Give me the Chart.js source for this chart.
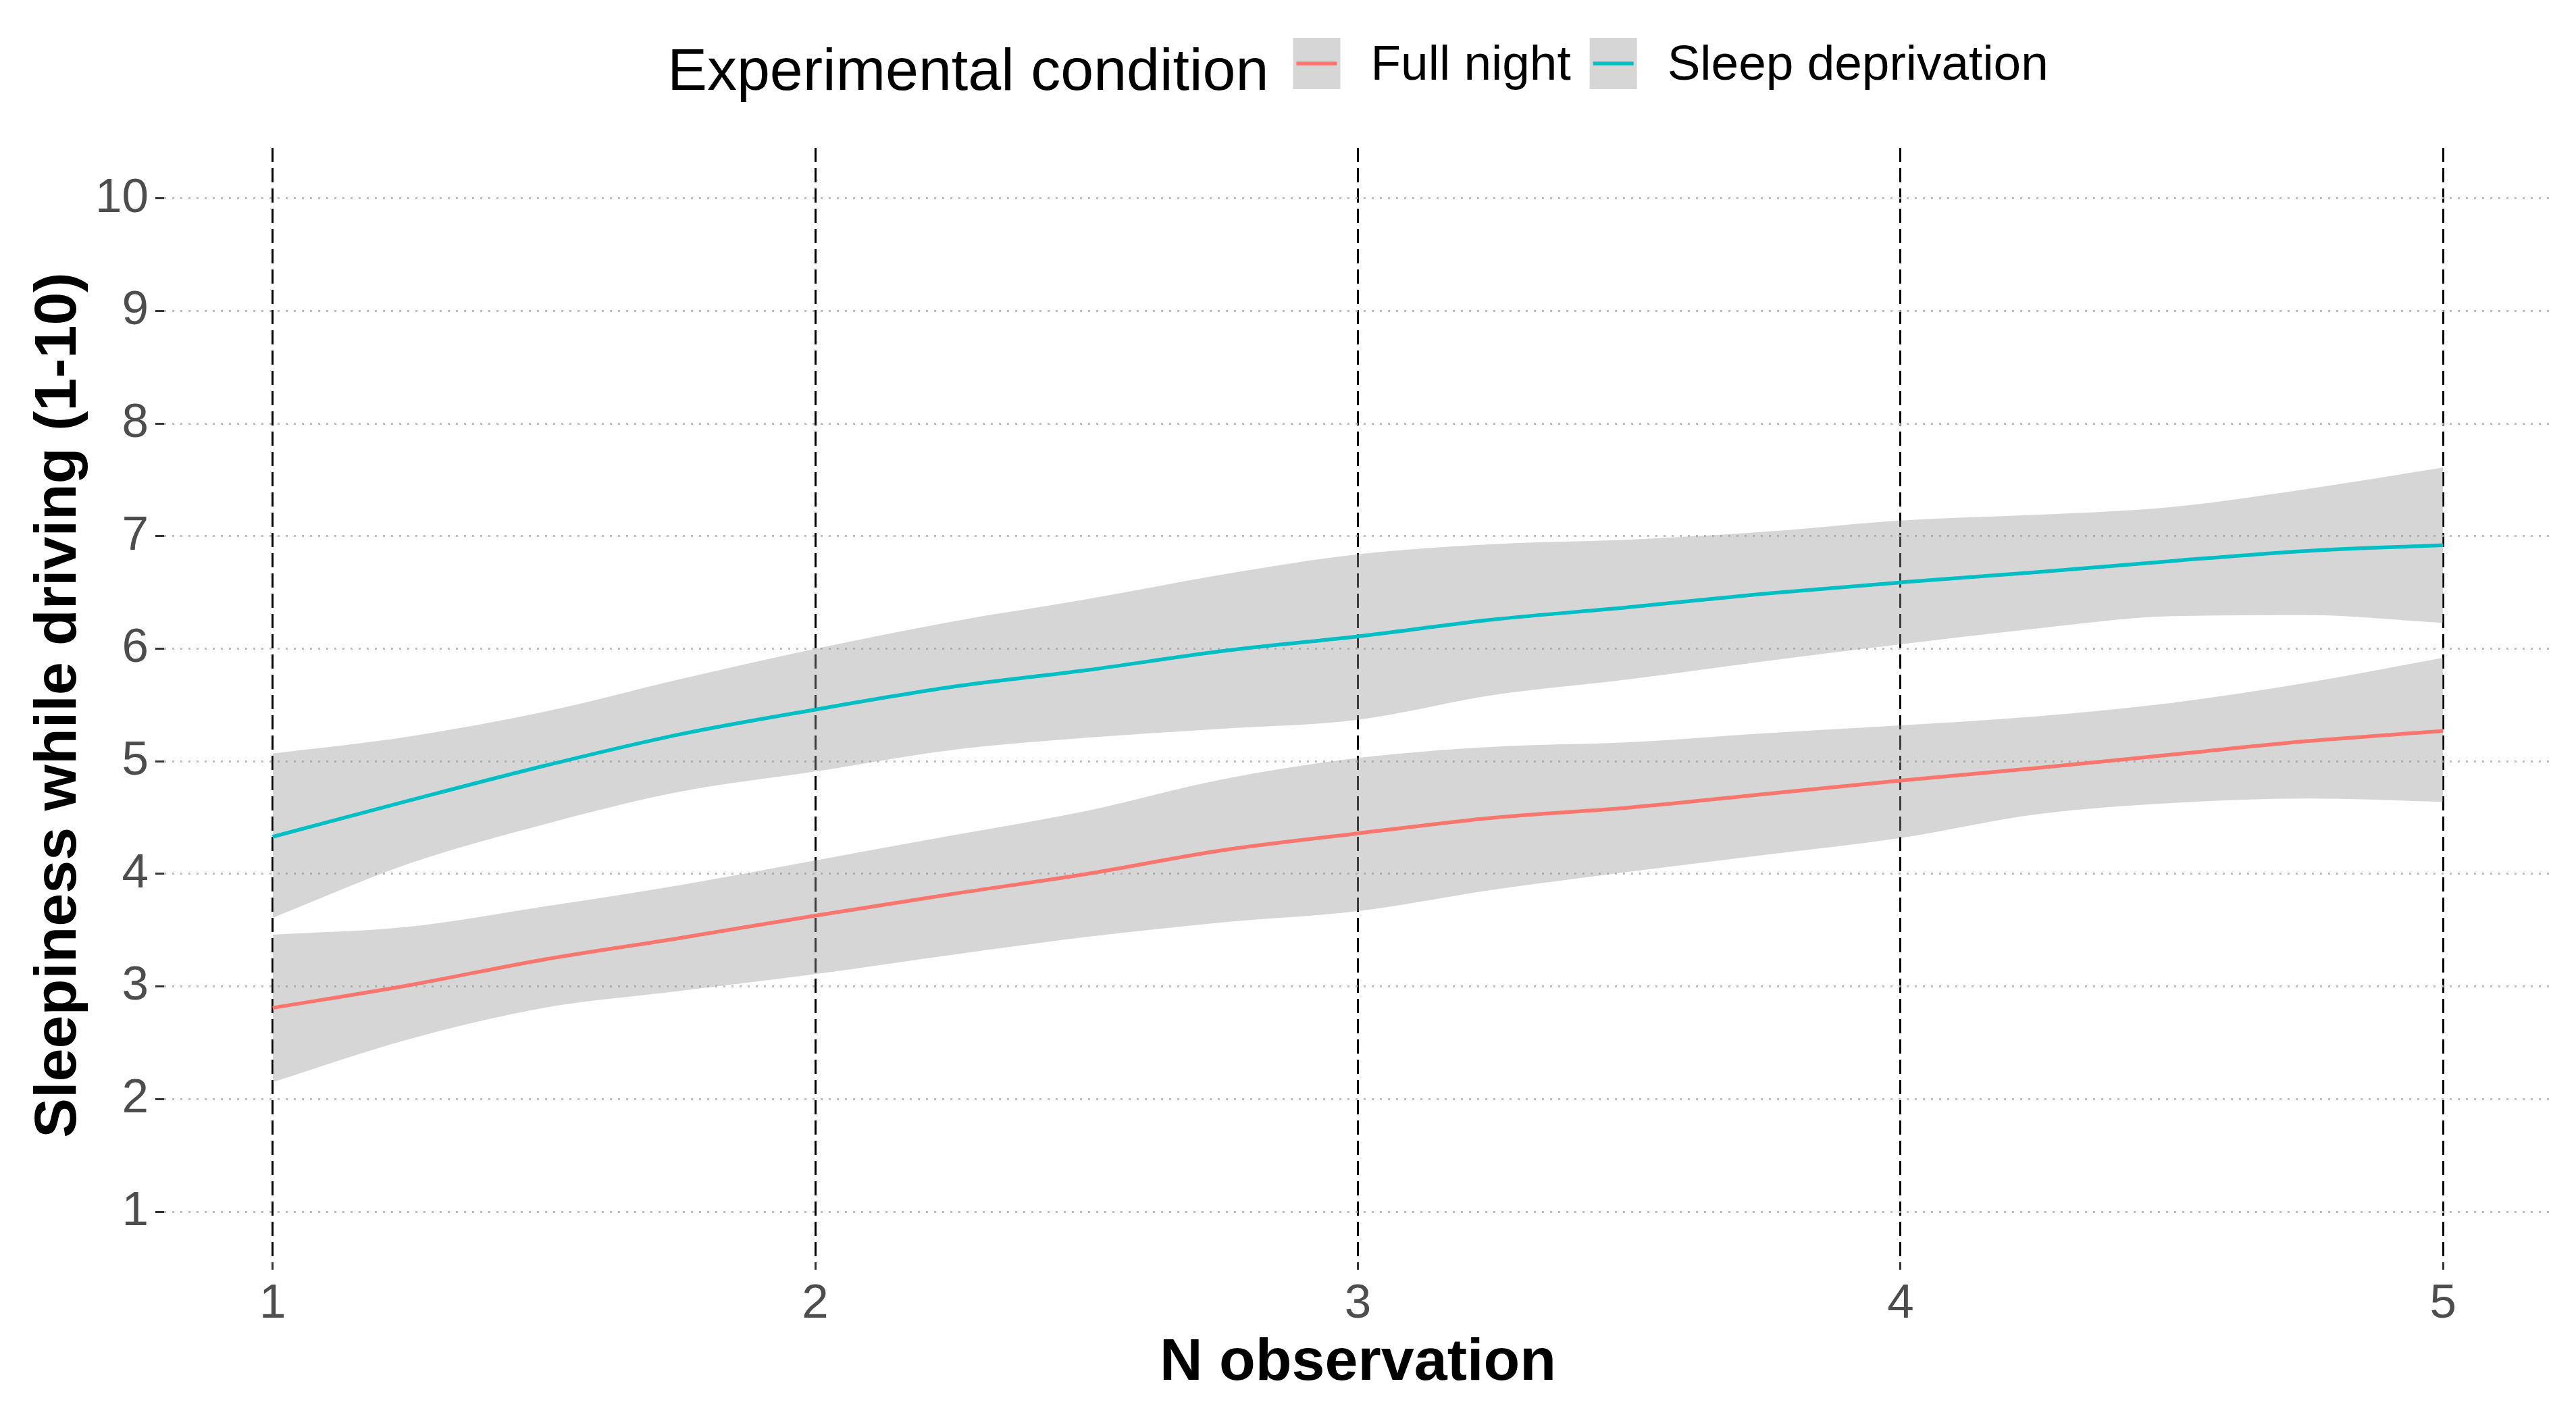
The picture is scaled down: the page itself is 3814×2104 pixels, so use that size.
<!DOCTYPE html>
<html>
<head>
<meta charset="utf-8">
<script src="https://cdn.jsdelivr.net/npm/chart.js@4.4.1/dist/chart.umd.min.js"></script>
<style>
  html, body { margin: 0; padding: 0; background: #ffffff; overflow: hidden; }
  canvas { display: block; }
</style>
</head>
<body>
<canvas id="chart" width="3814" height="2104" style="width:3814px;height:2104px"></canvas>
<script>
// ---------------- data ----------------
const observations = [1, 1.25, 1.5, 1.75, 2, 2.25, 2.5, 2.75, 3, 3.25, 3.5, 3.75, 4, 4.25, 4.5, 4.75, 5];

const fullNightFit   = [2.81, 3.01, 3.24, 3.43, 3.63, 3.82, 4.00, 4.21, 4.36, 4.50, 4.59, 4.71, 4.83, 4.94, 5.06, 5.18, 5.27];
const fullNightUpper = [3.46, 3.53, 3.71, 3.90, 4.12, 4.34, 4.56, 4.84, 5.03, 5.13, 5.17, 5.25, 5.32, 5.40, 5.52, 5.70, 5.92];
const fullNightLower = [2.15, 2.53, 2.81, 2.96, 3.11, 3.28, 3.44, 3.57, 3.67, 3.86, 4.02, 4.17, 4.32, 4.53, 4.63, 4.67, 4.64];

const sleepDepFit    = [4.33, 4.65, 4.96, 5.24, 5.46, 5.66, 5.81, 5.98, 6.11, 6.26, 6.37, 6.49, 6.59, 6.68, 6.78, 6.87, 6.92];
const sleepDepUpper  = [5.07, 5.22, 5.44, 5.73, 6.00, 6.24, 6.44, 6.66, 6.84, 6.93, 6.97, 7.04, 7.14, 7.19, 7.26, 7.42, 7.61];
const sleepDepLower  = [3.61, 4.09, 4.44, 4.73, 4.91, 5.10, 5.21, 5.29, 5.37, 5.59, 5.73, 5.89, 6.04, 6.18, 6.29, 6.30, 6.23];

const seriesNames   = ['Full night', 'Sleep deprivation'];
const legendTitle   = 'Experimental condition';
const xTickValues   = [1, 2, 3, 4, 5];
const yTickValues   = [1, 2, 3, 4, 5, 6, 7, 8, 9, 10];
const xAxisTitle    = 'N observation';
const yAxisTitle    = 'Sleepiness while driving (1-10)';

// ---------------- styling ----------------
const FONT = '"Liberation Sans", Arial, Helvetica, sans-serif';
const COL_FULL = '#F8766D';
const COL_SLEEP = '#00BFC4';
const BAND = 'rgba(153,153,153,0.4)';

const pts = (ys) => observations.map((x, i) => ({ x: x, y: ys[i] }));

const bandStyle = { borderWidth: 0, pointRadius: 0, pointHoverRadius: 0, backgroundColor: BAND, cubicInterpolationMode: 'monotone' };

const datasets = [
  Object.assign({ label: 'SD upper', data: pts(sleepDepUpper), fill: false, order: 5 }, bandStyle),
  Object.assign({ label: 'SD lower', data: pts(sleepDepLower), fill: '-1', order: 5 }, bandStyle),
  Object.assign({ label: 'FN upper', data: pts(fullNightUpper), fill: false, order: 5 }, bandStyle),
  Object.assign({ label: 'FN lower', data: pts(fullNightLower), fill: '-1', order: 5 }, bandStyle),
  { label: seriesNames[1], data: pts(sleepDepFit), borderColor: COL_SLEEP, borderWidth: 5.5, pointRadius: 0, fill: false, cubicInterpolationMode: 'monotone', order: 1 },
  { label: seriesNames[0], data: pts(fullNightFit), borderColor: COL_FULL, borderWidth: 5.5, pointRadius: 0, fill: false, cubicInterpolationMode: 'monotone', order: 1 }
];

const legendItems = [
  { label: seriesNames[0], color: COL_FULL },
  { label: seriesNames[1], color: COL_SLEEP }
];

const ggLegend = {
  id: 'ggLegend',
  afterDraw(chart) {
    const ctx = chart.ctx;
    const ca = chart.chartArea;
    const titleFont = '88px ' + FONT;
    const labelFont = '73px ' + FONT;
    const keyW = 70, keyH = 76, keyTop = 56;
    const gapTitle = 36, gapKeyLabel = 45, gapItems = 28;
    ctx.save();
    ctx.font = titleFont;
    const tw = ctx.measureText(legendTitle).width;
    ctx.font = labelFont;
    const lws = legendItems.map(it => ctx.measureText(it.label).width);
    let total = tw + gapTitle;
    lws.forEach((w, i) => { total += keyW + gapKeyLabel + w + (i < lws.length - 1 ? gapItems : 0); });
    let x = (ca.left + ca.right) / 2 - total / 2;
    ctx.fillStyle = '#000000';
    ctx.textBaseline = 'alphabetic';
    ctx.textAlign = 'left';
    ctx.font = titleFont;
    ctx.fillText(legendTitle, x, 133);
    x += tw + gapTitle;
    legendItems.forEach((it, i) => {
      ctx.fillStyle = BAND;
      ctx.fillRect(x, keyTop, keyW, keyH);
      ctx.strokeStyle = it.color;
      ctx.lineWidth = 5.5;
      ctx.beginPath();
      ctx.moveTo(x + 5, keyTop + keyH / 2);
      ctx.lineTo(x + keyW - 5, keyTop + keyH / 2);
      ctx.stroke();
      x += keyW + gapKeyLabel;
      ctx.fillStyle = '#000000';
      ctx.font = labelFont;
      ctx.fillText(it.label, x, 118);
      x += lws[i] + gapItems;
    });
    ctx.restore();
  }
};

const PANEL_LEFT = 243, PANEL_RIGHT = 3778, PANEL_TOP = 219, PANEL_BOTTOM = 1869;

new Chart(document.getElementById('chart'), {
  type: 'line',
  data: { datasets: datasets },
  plugins: [ggLegend],
  options: {
    responsive: false,
    devicePixelRatio: 1,
    animation: false,
    events: [],
    layout: { padding: { left: 0, top: PANEL_TOP, right: 3814 - PANEL_RIGHT, bottom: 0 } },
    plugins: { legend: { display: false }, tooltip: { enabled: false }, title: { display: false } },
    scales: {
      x: {
        type: 'linear',
        min: 0.8,
        max: 5.2,
        afterBuildTicks: (s) => { s.ticks = xTickValues.map(v => ({ value: v })); },
        afterFit: (s) => { s.height = 2104 - PANEL_BOTTOM; },
        border: { display: false, dash: [21, 9], dashOffset: 0 },
        grid: {
          color: '#000000', lineWidth: 3,
          drawTicks: true, tickLength: 11, tickColor: '#333333', tickWidth: 3, tickBorderDash: [0, 0], tickBorderDashOffset: 0
        },
        ticks: { color: '#4D4D4D', font: { family: FONT, size: 71 }, padding: 9, maxRotation: 0, autoSkip: false },
        title: { display: true, text: xAxisTitle, color: '#000000', font: { family: FONT, size: 88, weight: 'bold' }, padding: { top: 0, bottom: 32 } }
      },
      y: {
        type: 'linear',
        min: 0.55,
        max: 10.45,
        afterBuildTicks: (s) => { s.ticks = yTickValues.map(v => ({ value: v })); },
        afterFit: (s) => { s.width = PANEL_LEFT; },
        border: { display: false, dash: [3, 9], dashOffset: 0 },
        grid: {
          color: '#BEBEBE', lineWidth: 3,
          drawTicks: true, tickLength: 13, tickColor: '#333333', tickWidth: 3, tickBorderDash: [0, 0], tickBorderDashOffset: 0
        },
        ticks: { color: '#4D4D4D', font: { family: FONT, size: 71 }, padding: 10, autoSkip: false },
        title: { display: true, text: yAxisTitle, color: '#000000', font: { family: FONT, size: 88, weight: 'bold' }, padding: { top: 35, bottom: 0 } }
      }
    }
  }
});
</script>
</body>
</html>
